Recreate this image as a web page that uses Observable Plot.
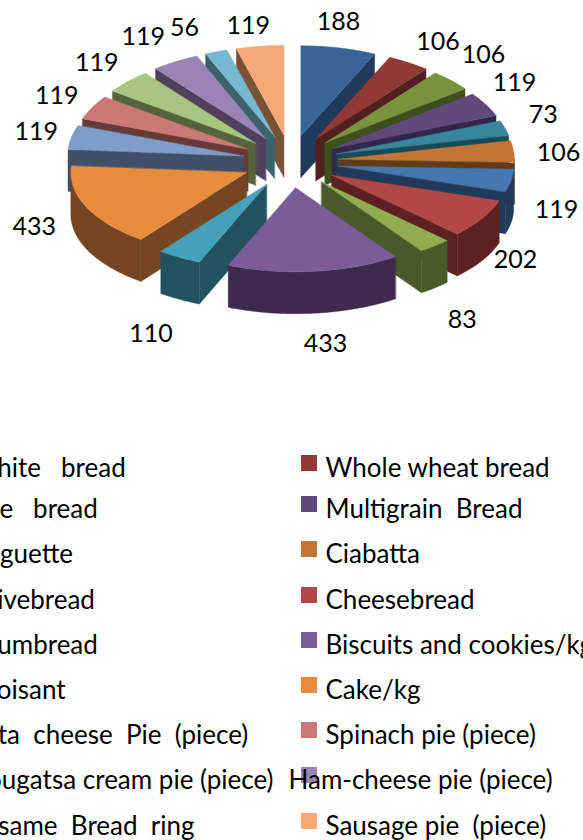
<!DOCTYPE html>
<html><head><meta charset="utf-8">
<script src="https://cdn.jsdelivr.net/npm/d3@7"></script>
<script src="https://cdn.jsdelivr.net/npm/@observablehq/plot@0.6"></script>
<style>
html,body{margin:0;padding:0;background:#fff;overflow:hidden;width:583px;height:840px}
svg text{white-space:pre}
</style></head><body><div id="chart"></div>
<script>
const categories = ["White   bread","Whole wheat bread","Rye   bread","Multigrain  Bread","Baguette","Ciabatta","Olivebread","Cheesebread","Crumbread","Biscuits and cookies/kg","Croisant","Cake/kg","Feta  cheese  Pie  (piece)","Spinach pie (piece)","Bougatsa cream pie (piece)","Ham-cheese pie (piece)","Sesame  Bread  ring","Sausage pie  (piece)"];
const values = [188,106,106,119,73,106,119,202,83,433,110,433,119,119,119,119,56,119];
const topColors = ["#3a6494","#913936","#77933c","#604a7b","#38859e","#c27535","#4577b0","#b24846","#8fad50","#7a5c99","#46a0ba","#e78b3e","#7c9ec8","#c87978","#a9c47f","#9a84b4","#78b8d1","#f7a877"];
const sideColors = ["#1f3a5a","#512020","#3f4e1f","#33264a","#1b4a56","#5f3c1c","#223a5a","#5c2120","#4b5a2b","#3c2b4d","#22525e","#754621","#3f5068","#663b3a","#55643e","#4f415d","#3c626e","#7a5135"];

// layout of the exploded 3-D pie
const cx = 290, cy = 161, rx = 176, ryBack = 90, ryFront = 84, depth = 42, explodeX = 48, explodeY = 26.4;
const labelCx = 290;
const labelNudge = [[-9,2],[8,4],[3,-5],[-7,-7],[-1,-5],[4,4],[5,16],[-2,2],[1,15],[7,-3],[-8,10],[-15,-12],[5,1],[1,2],[-1,1],[-11,0],[-18,3],[-6,8]];
const legendRows = [468,509,554,600,645,690,735,780,826];

const total = d3.sum(values);
const rad = d => d * Math.PI / 180;
let running = 0;
const slices = values.map((v, i) => {
  const a0 = running / total * 360; running += v;
  const a1 = running / total * 360;
  const mid = (a0 + a1) / 2;
  return {i, v, a0, a1, mid,
    ax: cx + explodeX * Math.sin(rad(mid)),
    ay: cy - explodeY * Math.cos(rad(mid))};
});
const rim = (s, a, dz = 0) => {
  const c = Math.cos(rad(a));
  return {x: s.ax + rx * Math.sin(rad(a)), y: s.ay - (c >= 0 ? ryBack : ryFront) * c + dz};
};
const arcPts = (s, a0, a1, dz = 0) => d3.range(0, 41).map(k => rim(s, a0 + (a1 - a0) * k / 40, dz));

const faces = [];
const addFace = (id, color, pts) => pts.forEach(p => faces.push({id, color, x: p.x, y: p.y}));
slices.slice().sort((a, b) => Math.cos(rad(b.mid)) - Math.cos(rad(a.mid))).forEach(s => {
  const apex = {x: s.ax, y: s.ay}, apexLow = {x: s.ax, y: s.ay + depth};
  const side = sideColors[s.i];
  if (Math.sin(rad(s.a1)) > 0) addFace(`e${s.i}`, side, [apex, rim(s, s.a1), rim(s, s.a1, depth), apexLow]);
  if (Math.sin(rad(s.a0)) < 0) addFace(`b${s.i}`, side, [apex, rim(s, s.a0), rim(s, s.a0, depth), apexLow]);
  const w0 = Math.max(s.a0, 90), w1 = Math.min(s.a1, 270);
  if (w1 > w0) addFace(`w${s.i}`, side, [...arcPts(s, w0, w1), ...arcPts(s, w0, w1, depth).reverse()]);
  addFace(`t${s.i}`, topColors[s.i], [apex, ...arcPts(s, s.a0, s.a1)]);
});

const labels = slices.map(s => {
  const c = Math.cos(rad(s.mid));
  return {text: String(s.v),
    x: labelCx + 265 * Math.sin(rad(s.mid)) + labelNudge[s.i][0],
    y: (c >= 0 ? cy - 145 * c : cy - 187 * c) + labelNudge[s.i][1]};
});

const legend = categories.map((name, i) => {
  const right = i % 2 === 1;
  return {name, color: topColors[i],
    y: legendRows[Math.floor(i / 2)],
    sx: right ? 301 : -50,
    tx: name.startsWith("Ham") ? 288 : right ? 325 : -30};
});

const plot = Plot.plot({
  width: 583, height: 840, margin: 0,
  x: {domain: [0, 583], range: [0, 583], axis: null},
  y: {domain: [0, 840], range: [0, 840], axis: null},
  style: {background: "#fff", fontFamily: "Lato, sans-serif"},
  marks: [
    Plot.line(faces, {x: "x", y: "y", z: "id", fill: "color", stroke: "color", strokeWidth: 0.4, curve: "linear-closed"}),
    Plot.text(labels, {x: "x", y: "y", text: "text", fontSize: 25, fill: "#000"}),
    Plot.rect(legend, {x1: "sx", x2: d => d.sx + 16, y1: d => d.y - 13, y2: d => d.y + 3, fill: "color"}),
    Plot.text(legend, {x: "tx", y: "y", text: "name", textAnchor: "start", fontSize: 26, fill: "#000"})
  ]
});
document.getElementById("chart").appendChild(plot);
</script></body></html>
